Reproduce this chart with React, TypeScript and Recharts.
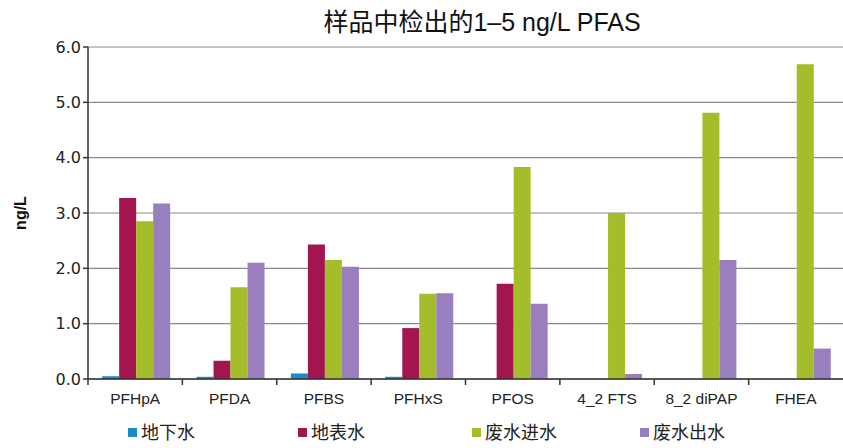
import { BarChart, Bar, XAxis, YAxis, CartesianGrid } from 'recharts';

const categories = ['PFHpA', 'PFDA', 'PFBS', 'PFHxS', 'PFOS', '4_2 FTS', '8_2 diPAP', 'FHEA'];
const groundwater = [0.05, 0.04, 0.1, 0.04, 0, 0, 0, 0];
const surfaceWater = [3.27, 0.33, 2.43, 0.92, 1.72, 0, 0, 0];
const influent = [2.85, 1.66, 2.15, 1.54, 3.83, 3.0, 4.81, 5.69];
const effluent = [3.17, 2.1, 2.03, 1.55, 1.36, 0.09, 2.15, 0.55];
const yTicks = [0, 1, 2, 3, 4, 5, 6];

const series = [
  { key: 'gw', name: '地下水', color: '#1e8bc9' },
  { key: 'sw', name: '地表水', color: '#a3154f' },
  { key: 'inf', name: '废水进水', color: '#a4bd2a' },
  { key: 'eff', name: '废水出水', color: '#9a7fbe' },
];

const data = categories.map((name, i) => ({
  name,
  gw: groundwater[i],
  sw: surfaceWater[i],
  inf: influent[i],
  eff: effluent[i],
}));

const W = 843;
const H = 448;
const M = { top: 47, right: 0, left: 20, bottom: 39 };
const band = (W - M.left - 68 - M.right) / categories.length;

const CJK = '"Liberation Sans", "Noto Sans CJK SC", sans-serif';

// label in the middle, tick mark on the left category boundary
const XTick = ({ x, y, payload }: any) => (
  <g>
    <line x1={x - band / 2} x2={x - band / 2} y1={y - 8} y2={y - 2} stroke="#333" strokeWidth={1.5} />
    <text x={x} y={y + 17} textAnchor="middle" fontSize={15.5} fill="#222" fontFamily='"Liberation Sans", sans-serif'>
      {payload.value}
    </text>
  </g>
);

const legendX = [128, 298, 472, 640];

export default function App() {
  return (
    <div style={{ position: 'absolute', left: 0, top: 0, width: W, height: H, background: '#fff' }}>
      <div
        style={{
          position: 'absolute',
          left: 0,
          width: 964,
          top: 2,
          textAlign: 'center',
          fontSize: 25,
          fontFamily: CJK,
          color: '#111',
          zIndex: 2,
        }}
      >
        样品中检出的1–5 ng/L PFAS
      </div>
      <BarChart
        width={W}
        height={H}
        data={data}
        margin={M}
        barCategoryGap="15%"
        barGap={0}
      >
        <CartesianGrid vertical={false} stroke="#8a8a8a" strokeWidth={1.2} />
        <XAxis
          dataKey="name"
          height={30}
          tickLine={false}
          axisLine={{ stroke: '#333', strokeWidth: 1.5 }}
          tick={<XTick />}
          interval={0}
        />
        <YAxis
          width={68}
          domain={[0, 6]}
          ticks={yTicks}
          tickFormatter={(v) => v.toFixed(1)}
          axisLine={{ stroke: '#333', strokeWidth: 1.5 }}
          tickLine={{ stroke: '#333', strokeWidth: 1.5 }}
          tickSize={5}
          tick={{ fontSize: 16, fill: '#222', fontFamily: '"DejaVu Sans", sans-serif' }}
          label={{
            value: 'ng/L',
            angle: -90,
            position: 'insideLeft',
            offset: 0,
            style: { fontSize: 16, fontWeight: 'bold', fill: '#111', fontFamily: '"Liberation Sans", sans-serif', textAnchor: 'middle' },
          }}
        />
        {series.map((s) => (
          <Bar key={s.key} dataKey={s.key} name={s.name} fill={s.color} isAnimationActive={false} />
        ))}
      </BarChart>
      <svg width={W} height={30} style={{ position: 'absolute', left: 0, top: 418, display: 'block' }}>
        {series.map((s, i) => (
          <g key={s.key}>
            <rect x={legendX[i]} y={10} width={9} height={9} fill={s.color} />
            <text x={legendX[i] + 13} y={21} fontSize={18} fill="#222" fontFamily={CJK}>
              {s.name}
            </text>
          </g>
        ))}
      </svg>
    </div>
  );
}
